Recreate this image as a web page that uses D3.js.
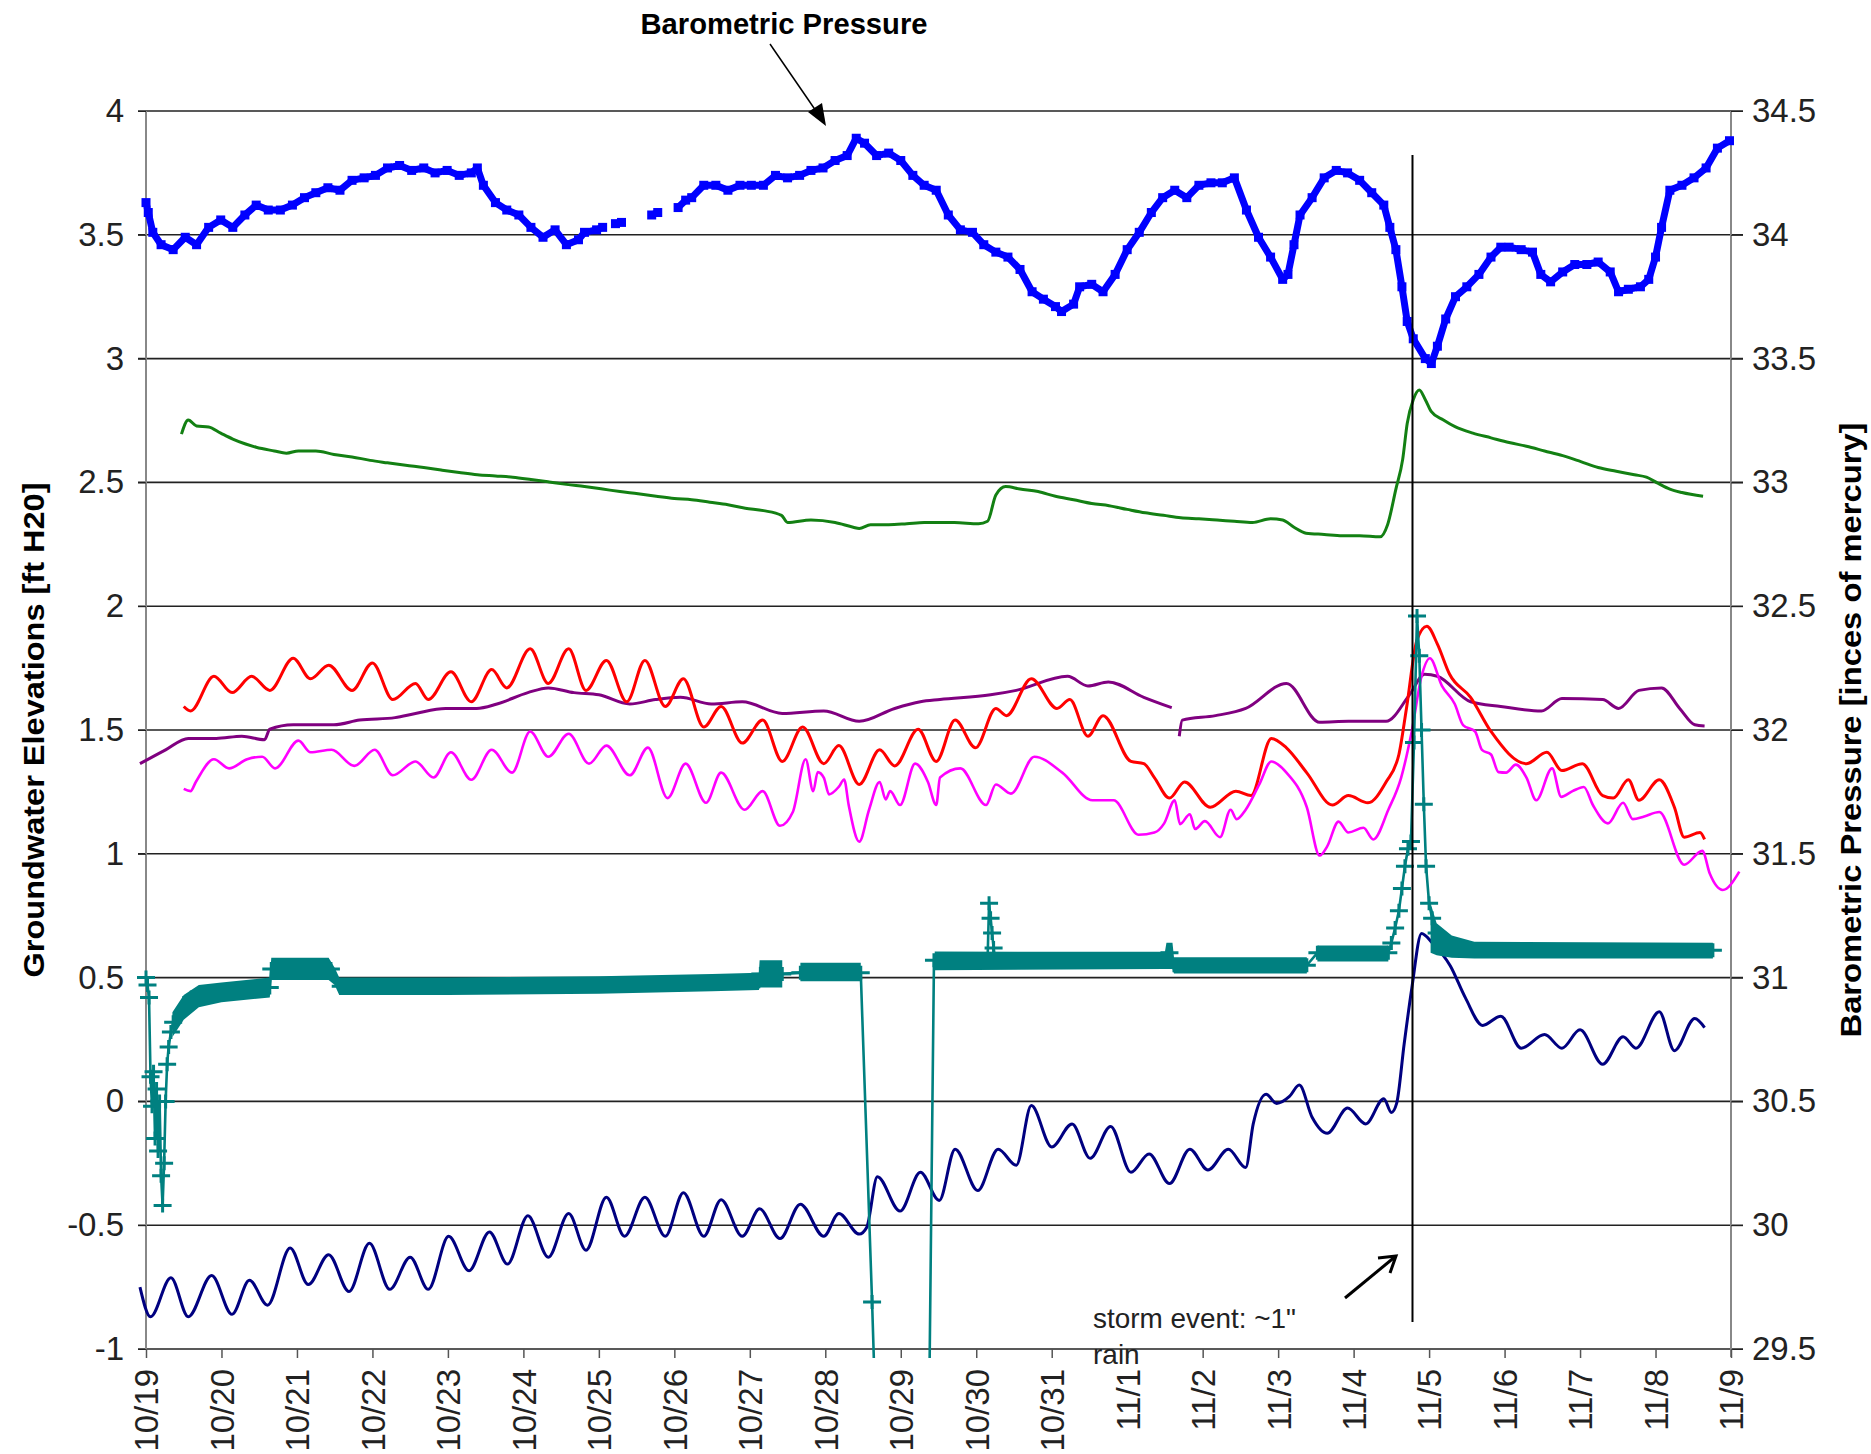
<!DOCTYPE html>
<html><head><meta charset="utf-8">
<script src="https://cdn.jsdelivr.net/npm/d3@7"></script>
<style>
html,body{margin:0;padding:0;background:#fff;}
svg{display:block;font-family:"Liberation Sans",Arial,sans-serif;}
</style>
</head><body><div id="chart"></div>
<script>
// ---------- categories / ticks ----------
const dayLabels = ["10/19","10/20","10/21","10/22","10/23","10/24","10/25","10/26","10/27","10/28","10/29","10/30","10/31","11/1","11/2","11/3","11/4","11/5","11/6","11/7","11/8","11/9"];
const leftTicks = [-1,-0.5,0,0.5,1,1.5,2,2.5,3,3.5,4];
const leftTickLabels = ["-1","-0.5","0","0.5","1","1.5","2","2.5","3","3.5","4"];
const rightTicks = [29.5,30,30.5,31,31.5,32,32.5,33,33.5,34,34.5];
const rightTickLabels = ["29.5","30","30.5","31","31.5","32","32.5","33","33.5","34","34.5"];
const stormDay = 16.78;

// ---------- series: [day since 10/19, value] ----------
const pressure = [
[0.00,34.13],[0.03,34.09],[0.09,34.01],[0.20,33.96],[0.36,33.94],[0.52,33.99],[0.67,33.96],[0.83,34.03],[0.99,34.06],[1.15,34.03],[1.31,34.08],[1.46,34.12],[1.62,34.10],[1.78,34.10],[1.94,34.12],[2.10,34.15],[2.25,34.17],[2.41,34.19],[2.57,34.18],[2.73,34.22],[2.89,34.23],[3.04,34.24],[3.20,34.27],[3.36,34.28],[3.52,34.26],[3.68,34.27],[3.83,34.25],[3.99,34.26],[4.15,34.24],[4.31,34.25],[4.39,34.27],[4.47,34.20],[4.63,34.13],[4.78,34.10],[4.94,34.08],[5.10,34.03],[5.26,33.99],[5.42,34.02],[5.57,33.96],[5.73,33.98],[5.81,34.01],[5.97,34.02],[6.05,34.03],
null,[6.22,34.045],[6.30,34.05],null,[6.70,34.08],[6.78,34.09],null,
[7.05,34.11],[7.15,34.14],[7.23,34.15],[7.39,34.20],[7.55,34.20],[7.71,34.18],[7.87,34.20],[8.02,34.20],[8.18,34.20],[8.34,34.24],[8.50,34.23],[8.66,34.24],[8.81,34.26],[8.97,34.27],[9.13,34.30],[9.29,34.32],[9.41,34.39],[9.52,34.37],[9.68,34.32],[9.84,34.33],[10.00,34.30],[10.16,34.24],[10.31,34.20],[10.47,34.18],[10.63,34.08],[10.79,34.02],[10.95,34.01],[11.10,33.96],[11.26,33.93],[11.42,33.91],[11.58,33.86],[11.74,33.77],[11.89,33.74],[12.05,33.71],[12.13,33.69],[12.29,33.72],[12.37,33.79],[12.53,33.80],[12.68,33.77],[12.84,33.84],[13.00,33.94],[13.16,34.01],[13.32,34.09],[13.47,34.15],[13.63,34.18],[13.79,34.15],[13.95,34.20],[14.11,34.21],[14.26,34.21],[14.42,34.23],[14.58,34.10],[14.74,33.99],[14.90,33.91],[15.06,33.82],[15.13,33.84],[15.21,33.96],[15.29,34.08],[15.45,34.15],[15.61,34.23],[15.77,34.26],[15.92,34.25],[16.08,34.22],[16.24,34.17],[16.40,34.12],[16.48,34.03],[16.56,33.94],[16.64,33.79],[16.71,33.65],[16.79,33.58],[16.95,33.50],[17.03,33.48],[17.11,33.55],[17.22,33.66],[17.35,33.75],[17.50,33.79],[17.66,33.84],[17.82,33.91],[17.95,33.95],[18.06,33.95],[18.22,33.94],[18.37,33.93],[18.48,33.84],[18.61,33.81],[18.77,33.85],[18.93,33.88],[19.09,33.88],[19.24,33.89],[19.40,33.85],[19.51,33.77],[19.64,33.78],[19.80,33.79],[19.91,33.82],[20.00,33.91],[20.08,34.03],[20.19,34.18],[20.35,34.20],[20.51,34.23],[20.67,34.27],[20.82,34.35],[20.98,34.38]
];

const wellGreen = [
[0.47,2.695],[0.56,2.752],[0.67,2.728],[0.83,2.724],[0.99,2.699],[1.15,2.675],[1.31,2.656],[1.46,2.642],[1.70,2.627],[1.86,2.618],[2.02,2.627],[2.25,2.627],[2.49,2.613],[2.73,2.603],[2.97,2.589],[3.20,2.579],[3.44,2.569],[3.68,2.560],[3.91,2.550],[4.15,2.540],[4.39,2.531],[4.63,2.526],[4.86,2.521],[5.10,2.512],[5.34,2.502],[5.57,2.492],[5.81,2.483],[6.05,2.473],[6.28,2.463],[6.52,2.454],[6.76,2.444],[7.00,2.435],[7.23,2.430],[7.47,2.420],[7.71,2.410],[7.94,2.396],[8.18,2.386],[8.42,2.367],[8.50,2.338],[8.81,2.348],[9.13,2.338],[9.37,2.319],[9.45,2.314],[9.60,2.329],[9.84,2.329],[10.08,2.333],[10.31,2.338],[10.55,2.338],[10.71,2.338],[11.03,2.333],[11.15,2.343],[11.26,2.449],[11.39,2.483],[11.58,2.473],[11.82,2.463],[12.05,2.444],[12.29,2.430],[12.53,2.415],[12.76,2.406],[13.00,2.391],[13.24,2.377],[13.48,2.367],[13.71,2.357],[13.95,2.353],[14.19,2.348],[14.42,2.343],[14.66,2.338],[14.90,2.353],[15.06,2.348],[15.21,2.319],[15.37,2.295],[15.61,2.290],[15.85,2.285],[16.08,2.285],[16.35,2.280],[16.45,2.329],[16.56,2.473],[16.65,2.593],[16.71,2.738],[16.79,2.834],[16.87,2.873],[16.95,2.834],[17.03,2.786],[17.19,2.752],[17.35,2.724],[17.58,2.699],[17.82,2.680],[18.06,2.661],[18.29,2.646],[18.53,2.627],[18.77,2.608],[19.01,2.584],[19.24,2.560],[19.48,2.545],[19.72,2.531],[19.88,2.521],[20.03,2.497],[20.19,2.473],[20.35,2.459],[20.63,2.444]
];

const wellRed = [
[0.50,1.595],[0.59,1.577],[0.90,1.717],[1.14,1.651],[1.40,1.717],[1.64,1.660],[1.95,1.790],[2.18,1.707],[2.42,1.762],[2.73,1.660],[3.00,1.771],[3.27,1.623],[3.57,1.688],[3.74,1.623],[4.04,1.735],[4.31,1.614],[4.58,1.744],[4.78,1.670],[5.09,1.828],[5.33,1.688],[5.60,1.828],[5.83,1.660],[6.10,1.781],[6.37,1.614],[6.61,1.781],[6.88,1.595],[7.12,1.707],[7.39,1.512],[7.62,1.595],[7.90,1.447],[8.17,1.540],[8.43,1.373],[8.70,1.512],[8.98,1.364],[9.18,1.437],[9.45,1.280],[9.72,1.420],[9.92,1.355],[10.23,1.503],[10.47,1.373],[10.72,1.540],[10.99,1.428],[11.26,1.587],[11.40,1.558],[11.73,1.707],[12.07,1.587],[12.24,1.623],[12.48,1.475],[12.68,1.558],[13.05,1.373],[13.22,1.364],[13.36,1.308],[13.56,1.225],[13.76,1.290],[14.10,1.188],[14.44,1.253],[14.64,1.235],[14.91,1.466],[15.11,1.428],[15.38,1.327],[15.72,1.197],[15.93,1.235],[16.19,1.206],[16.43,1.290],[16.60,1.401],[16.70,1.587],[16.84,1.864],[16.97,1.919],[17.11,1.847],[17.27,1.726],[17.55,1.632],[17.82,1.494],[18.29,1.364],[18.56,1.410],[18.76,1.336],[19.03,1.364],[19.30,1.235],[19.44,1.225],[19.64,1.299],[19.78,1.216],[20.05,1.299],[20.25,1.188],[20.38,1.067],[20.59,1.086],[20.65,1.058]
];

const wellPurple = [
[-0.08,1.364],[0.26,1.420],[0.56,1.466],[0.93,1.466],[1.27,1.475],[1.57,1.461],[1.64,1.503],[1.95,1.521],[2.49,1.521],[2.83,1.540],[3.30,1.550],[3.57,1.567],[3.97,1.587],[4.38,1.587],[4.65,1.605],[5.06,1.651],[5.33,1.670],[5.67,1.651],[6.00,1.642],[6.41,1.605],[6.75,1.623],[7.08,1.632],[7.49,1.605],[7.90,1.614],[8.43,1.567],[8.98,1.577],[9.45,1.535],[9.92,1.587],[10.26,1.614],[10.52,1.623],[11.19,1.642],[11.53,1.660],[12.21,1.717],[12.48,1.678],[12.75,1.694],[13.22,1.632],[13.59,1.590],
null,
[13.69,1.475],[13.73,1.540],[14.17,1.558],[14.57,1.587],[15.11,1.688],[15.55,1.531],[15.93,1.535],[16.43,1.535],[16.74,1.642],[16.94,1.725],[17.11,1.717],[17.55,1.614],[17.95,1.595],[18.49,1.577],[18.76,1.627],[19.30,1.623],[19.51,1.587],[19.78,1.660],[20.08,1.670],[20.32,1.587],[20.52,1.521],[20.65,1.516]
];

const wellMagenta = [
[0.50,1.262],[0.59,1.253],[0.66,1.290],[0.90,1.382],[1.10,1.345],[1.34,1.382],[1.54,1.392],[1.71,1.345],[2.02,1.457],[2.18,1.410],[2.46,1.420],[2.76,1.355],[3.03,1.420],[3.27,1.317],[3.57,1.373],[3.81,1.308],[4.04,1.410],[4.31,1.299],[4.58,1.420],[4.85,1.328],[5.09,1.494],[5.33,1.392],[5.60,1.485],[5.87,1.364],[6.10,1.437],[6.41,1.317],[6.65,1.429],[6.91,1.225],[7.15,1.364],[7.42,1.206],[7.62,1.328],[7.93,1.178],[8.17,1.253],[8.40,1.113],[8.57,1.169],[8.74,1.382],[8.84,1.253],[8.90,1.330],[8.98,1.308],[9.05,1.240],[9.18,1.271],[9.25,1.300],[9.31,1.197],[9.45,1.049],[9.58,1.178],[9.72,1.290],[9.80,1.220],[9.86,1.253],[9.99,1.197],[10.19,1.364],[10.36,1.290],[10.47,1.197],[10.52,1.308],[10.79,1.345],[11.13,1.197],[11.26,1.280],[11.46,1.243],[11.77,1.392],[12.14,1.328],[12.54,1.216],[12.82,1.216],[13.15,1.077],[13.36,1.086],[13.49,1.123],[13.63,1.216],[13.70,1.120],[13.83,1.160],[13.90,1.100],[14.03,1.132],[14.23,1.067],[14.37,1.178],[14.45,1.140],[14.57,1.178],[14.75,1.280],[14.91,1.373],[15.11,1.328],[15.38,1.188],[15.55,0.993],[15.65,1.030],[15.80,1.130],[15.93,1.086],[16.13,1.105],[16.26,1.058],[16.46,1.178],[16.63,1.308],[16.77,1.494],[16.90,1.717],[17.01,1.790],[17.17,1.678],[17.34,1.605],[17.45,1.520],[17.61,1.494],[17.70,1.420],[17.82,1.401],[17.92,1.330],[18.02,1.328],[18.15,1.360],[18.29,1.308],[18.42,1.216],[18.63,1.345],[18.75,1.230],[18.90,1.253],[19.05,1.270],[19.17,1.197],[19.37,1.123],[19.57,1.206],[19.70,1.140],[19.85,1.151],[20.05,1.169],[20.38,0.956],[20.62,1.012],[20.72,0.919],[20.89,0.854],[21.11,0.928]
];

const wellNavy = [
[-0.08,-0.750],[0.06,-0.870],[0.33,-0.712],[0.56,-0.870],[0.87,-0.703],[1.14,-0.860],[1.37,-0.722],[1.61,-0.823],[1.91,-0.592],[2.15,-0.740],[2.42,-0.619],[2.69,-0.768],[2.96,-0.573],[3.23,-0.759],[3.50,-0.629],[3.74,-0.759],[4.01,-0.545],[4.28,-0.684],[4.55,-0.527],[4.79,-0.657],[5.06,-0.462],[5.33,-0.629],[5.60,-0.453],[5.83,-0.601],[6.10,-0.387],[6.34,-0.545],[6.61,-0.387],[6.88,-0.545],[7.12,-0.369],[7.39,-0.545],[7.62,-0.397],[7.90,-0.545],[8.13,-0.434],[8.40,-0.554],[8.67,-0.415],[8.98,-0.545],[9.18,-0.453],[9.45,-0.536],[9.55,-0.508],[9.69,-0.304],[9.99,-0.443],[10.26,-0.286],[10.51,-0.400],[10.72,-0.193],[11.02,-0.360],[11.29,-0.193],[11.53,-0.258],[11.73,-0.017],[12.00,-0.184],[12.27,-0.091],[12.51,-0.230],[12.78,-0.101],[13.05,-0.286],[13.29,-0.212],[13.56,-0.332],[13.83,-0.193],[14.07,-0.277],[14.34,-0.193],[14.57,-0.267],[14.67,-0.091],[14.84,0.029],[14.98,-0.008],[15.15,0.020],[15.28,0.066],[15.45,-0.064],[15.65,-0.129],[15.92,-0.027],[16.16,-0.091],[16.40,0.011],[16.50,-0.045],[16.57,-0.008],[16.67,0.233],[16.77,0.455],[16.90,0.678],[17.04,0.641],[17.28,0.548],[17.48,0.419],[17.71,0.307],[17.95,0.344],[18.22,0.215],[18.53,0.270],[18.76,0.215],[19.00,0.289],[19.30,0.150],[19.57,0.261],[19.74,0.215],[20.05,0.362],[20.25,0.205],[20.52,0.335],[20.65,0.298]
];

// teal well: dense logger trace shown as a band [day, low, high], plus sampled points with '+' markers
const tealBand = [
[0.35,0.26,0.36],[0.5,0.33,0.43],[0.7,0.38,0.47],[1.0,0.40,0.48],[1.64,0.42,0.50],[1.66,0.49,0.58],[2.42,0.49,0.58],[2.50,0.47,0.54],[2.56,0.43,0.50],[4.0,0.43,0.50],[6.0,0.435,0.505],[7.5,0.445,0.515],[8.12,0.45,0.52],[8.13,0.46,0.57],[8.43,0.46,0.57],
null,
[8.67,0.485,0.56],[9.47,0.485,0.56],
null,
[10.45,0.53,0.605],[13.50,0.535,0.604],[13.52,0.535,0.641],[13.60,0.535,0.641],[13.62,0.517,0.582],[15.38,0.517,0.582],
null,
[15.52,0.565,0.630],[16.46,0.565,0.630],
null,
[17.02,0.60,0.80],[17.10,0.59,0.72],[17.30,0.58,0.67],[17.60,0.577,0.645],[20.76,0.577,0.641]
];
const tealPts = [
[0.00,0.50],[0.02,0.47],[0.04,0.42],[0.06,0.10],[0.08,-0.02],[0.10,0.12],[0.12,-0.15],[0.14,0.05],[0.16,-0.20],[0.18,0.00],[0.20,-0.30],[0.22,-0.42],[0.24,-0.25],[0.26,0.00],[0.28,0.15],[0.30,0.22],[0.33,0.28],[0.36,0.32],
[0.6,0.42],[1.0,0.44],[1.64,0.46],[1.66,0.535],[2.45,0.535],[2.58,0.465],[8.12,0.485],[8.14,0.515],[8.43,0.515],[8.67,0.52],[9.47,0.52],
[9.62,-0.81],[9.68,-1.4],[10.37,-1.4],[10.44,0.57],
[11.15,0.57],[11.17,0.80],[11.19,0.74],[11.21,0.68],[11.23,0.62],[11.25,0.57],
[13.50,0.57],[13.56,0.60],[13.62,0.55],[15.38,0.55],[15.52,0.60],[16.46,0.60],
[16.50,0.64],[16.55,0.70],[16.60,0.77],[16.64,0.86],[16.68,0.95],[16.72,1.02],[16.76,1.05],[16.80,1.45],[16.84,1.96],[16.87,1.80],[16.90,1.50],[16.93,1.20],[16.96,0.95],[17.00,0.80],[17.04,0.74],[17.10,0.68],[17.30,0.625],[20.76,0.61]
];

// ---------- layout ----------
const W = 1871, H = 1454;
const L = 146, R = 1731, T = 111, B = 1349;
const FONT = '"Liberation Sans", Arial, sans-serif';
const svg = d3.select("#chart").append("svg").attr("width", W).attr("height", H);
svg.append("rect").attr("width", W).attr("height", H).attr("fill", "#fff");

const x = d3.scaleLinear().domain([0, 21]).range([L, R]);
const yL = d3.scaleLinear().domain([-1, 4]).range([B, T]);
const yR = d3.scaleLinear().domain([29.5, 34.5]).range([B, T]);

// gridlines
svg.append("g").selectAll("line").data(leftTicks).join("line")
  .attr("x1", L - 8).attr("x2", R + 12)
  .attr("y1", d => yL(d)).attr("y2", d => yL(d))
  .attr("stroke", "#222").attr("stroke-width", 1.6);

// vertical axis lines
svg.append("line").attr("x1", L).attr("x2", L).attr("y1", T).attr("y2", B).attr("stroke", "#888").attr("stroke-width", 2);
svg.append("line").attr("x1", R).attr("x2", R).attr("y1", T).attr("y2", B + 8).attr("stroke", "#888").attr("stroke-width", 2);

// left axis
const gl = svg.append("g").attr("transform", `translate(${L},0)`)
  .call(d3.axisLeft(yL).tickValues(leftTicks).tickFormat((d, i) => leftTickLabels[i]).tickSize(8).tickPadding(14));
gl.select(".domain").remove();
gl.selectAll("line").attr("stroke", "#222");
gl.selectAll("text").attr("font-size", 33).attr("fill", "#222").attr("font-family", FONT);

// right axis
const gr = svg.append("g").attr("transform", `translate(${R},0)`)
  .call(d3.axisRight(yR).tickValues(rightTicks).tickFormat((d, i) => rightTickLabels[i]).tickSize(12).tickPadding(9));
gr.select(".domain").remove();
gr.selectAll("line").attr("stroke", "#222");
gr.selectAll("text").attr("font-size", 33).attr("fill", "#222").attr("font-family", FONT);

// bottom axis
const gb = svg.append("g").attr("transform", `translate(0,${B})`)
  .call(d3.axisBottom(x).tickValues(d3.range(0, 22)).tickFormat((d, i) => dayLabels[i]).tickSize(9));
gb.select(".domain").remove();
gb.selectAll("line").attr("stroke", "#555").attr("stroke-width", 1.5);
gb.selectAll("text")
  .attr("font-size", 33).attr("fill", "#222").attr("font-family", FONT)
  .attr("transform", "rotate(-90)").attr("text-anchor", "end")
  .attr("x", -20).attr("y", 0).attr("dy", "0.36em");

// axis titles
svg.append("text").attr("transform", `translate(44,${(T + B) / 2}) rotate(-90)`)
  .attr("text-anchor", "middle").attr("font-weight", "bold").attr("font-size", 30)
  .attr("textLength", 495).attr("lengthAdjust", "spacingAndGlyphs")
  .text("Groundwater Elevations [ft H20]");
svg.append("text").attr("transform", `translate(1861,${(T + B) / 2}) rotate(-90)`)
  .attr("text-anchor", "middle").attr("font-weight", "bold").attr("font-size", 30)
  .attr("textLength", 615).attr("lengthAdjust", "spacingAndGlyphs")
  .text("Barometric Pressure [inces of mercury]");

// clip for series
svg.append("clipPath").attr("id", "plotclip").append("rect")
  .attr("x", 0).attr("y", 0).attr("width", W).attr("height", B + 9);
const plot = svg.append("g").attr("clip-path", "url(#plotclip)");

const lineSmooth = d3.line().defined(d => d !== null).x(d => x(d[0])).y(d => yL(d[1])).curve(d3.curveMonotoneX);
const lineL = d3.line().defined(d => d !== null).x(d => x(d[0])).y(d => yL(d[1]));
const lineR = d3.line().defined(d => d !== null).x(d => x(d[0])).y(d => yR(d[1]));

function drawL(data, color, w, gen) {
  plot.append("path").datum(data).attr("d", gen || lineSmooth).attr("fill", "none")
    .attr("stroke", color).attr("stroke-width", w).attr("stroke-linejoin", "round");
}

drawL(wellPurple, "#800080", 3);
drawL(wellRed, "#ff0000", 3);
drawL(wellMagenta, "#ff00ff", 2.6);
drawL(wellNavy, "#000080", 3);
drawL(wellGreen, "#138013", 3);

// teal
const teal = "#008080";
plot.append("path").datum(tealBand)
  .attr("d", d3.area().defined(d => d !== null).x(d => x(d[0])).y0(d => yL(d[1])).y1(d => yL(d[2])))
  .attr("fill", teal);
drawL(tealPts, teal, 2.6, lineL);
plot.append("g").selectAll("path").data(tealPts).join("path")
  .attr("transform", d => `translate(${x(d[0])},${yL(d[1])})`)
  .attr("d", "M-9,0H9M0,-7V7").attr("stroke", teal).attr("stroke-width", 3);

// barometric pressure (right axis)
plot.append("path").datum(pressure).attr("d", lineR).attr("fill", "none")
  .attr("stroke", "#0000ff").attr("stroke-width", 7).attr("stroke-linejoin", "round");
plot.append("g").selectAll("rect").data(pressure.filter(d => d !== null)).join("rect")
  .attr("x", d => x(d[0]) - 4.5).attr("y", d => yR(d[1]) - 4.5)
  .attr("width", 9).attr("height", 9).attr("fill", "#0000ff");

// storm event line
svg.append("line").attr("x1", x(stormDay)).attr("x2", x(stormDay)).attr("y1", 155).attr("y2", 1322)
  .attr("stroke", "#000").attr("stroke-width", 2);

// annotations
svg.append("text").attr("x", 784).attr("y", 34).attr("text-anchor", "middle")
  .attr("font-weight", "bold").attr("font-size", 29)
  .attr("textLength", 287).attr("lengthAdjust", "spacingAndGlyphs")
  .text("Barometric Pressure");
svg.append("line").attr("x1", 770).attr("y1", 44).attr("x2", 816).attr("y2", 111)
  .attr("stroke", "#000").attr("stroke-width", 1.5);
svg.append("path").attr("d", "M826,126 L808,112 L822,103 Z").attr("fill", "#000");

svg.append("text").attr("x", 1093).attr("y", 1328).attr("font-size", 28)
  .attr("textLength", 203).attr("lengthAdjust", "spacingAndGlyphs").attr("fill", "#222")
  .text("storm event: ~1\"");
svg.append("text").attr("x", 1093).attr("y", 1364).attr("font-size", 28).attr("fill", "#222").text("rain");
svg.append("line").attr("x1", 1345).attr("y1", 1298).attr("x2", 1396).attr("y2", 1256)
  .attr("stroke", "#000").attr("stroke-width", 3);
svg.append("path").attr("d", "M1378,1258 L1396,1256 L1390,1273").attr("fill", "none")
  .attr("stroke", "#000").attr("stroke-width", 3);
</script>
</body></html>
